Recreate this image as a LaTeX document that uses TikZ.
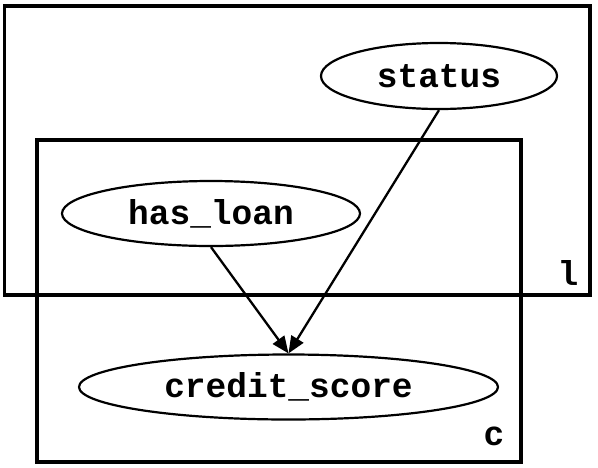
\documentclass[tikz,border=0pt]{standalone}
\usepackage{fontspec}
\setmonofont{Liberation Mono}
\usetikzlibrary{arrows.meta,shapes.geometric}
\begin{document}
\begin{tikzpicture}[x=1pt,y=-1pt,
  plate/.style={draw,line width=3.6pt},
  var/.style={draw,ellipse,line width=2.2pt,inner sep=0pt,font=\ttfamily\bfseries\fontsize{34.5}{40}\selectfont},
  lbl/.style={font=\ttfamily\bfseries\fontsize{34.5}{40}\selectfont,inner sep=0pt},
  edge/.style={line width=2.3pt,-{Triangle[length=17pt,width=14pt]}}]
\useasboundingbox (0,0) rectangle (598,467);
\draw[plate] (4.5,6) rectangle (590,295);
\draw[plate] (37,140) rectangle (521,462);
\node[var,minimum width=236pt,minimum height=66pt] (st) at (439,76) {status};
\node[var,minimum width=298pt,minimum height=65pt] (hl) at (211,213.5) {has\_loan};
\node[var,minimum width=419pt,minimum height=65pt] (cs) at (288.5,387) {credit\_score};
\node[lbl] (ll) at (568,273) {l};
\node[lbl] (lc) at (494,436) {c};
\draw[edge] (hl.south) -- (cs.north);
\draw[edge] (st.south) -- (cs.north);
\end{tikzpicture}
\end{document}
